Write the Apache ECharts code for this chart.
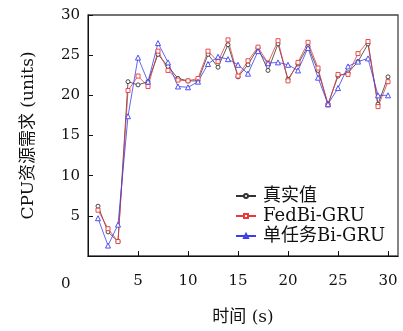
<!DOCTYPE html>
<html>
<head>
<meta charset="utf-8">
<script src="https://cdn.jsdelivr.net/npm/echarts@6/dist/echarts.min.js"></script>
<style>
  html, body { margin: 0; padding: 0; background: #fff; }
  #chart { width: 403px; height: 331px; }
</style>
</head>
<body>
<div id="chart"></div>
<script>
// 时间点 (s)
const timeSteps = [1, 2, 3, 4, 5, 6, 7, 8, 9, 10, 11, 12, 13, 14, 15,
  16, 17, 18, 19, 20, 21, 22, 23, 24, 25, 26, 27, 28, 29, 30];

// 真实值
const actualValues = [6.2, 3.0, 1.8, 21.7, 21.3, 21.7, 25.1, 23.6, 22.1, 21.8,
  21.8, 25.1, 23.5, 26.3, 22.3, 23.8, 25.9, 23.1, 26.4, 22.0,
  23.9, 26.1, 23.1, 18.9, 22.4, 22.8, 24.2, 26.4, 18.9, 22.3];

// FedBi-GRU
const fedValues = [5.7, 3.4, 1.8, 20.6, 22.4, 21.1, 25.5, 23.1, 21.9, 21.8,
  22.1, 25.5, 24.2, 26.9, 22.4, 24.3, 26.0, 24.0, 26.8, 21.8,
  24.1, 26.6, 23.4, 18.8, 22.6, 22.6, 25.2, 26.7, 18.6, 21.7];

// 单任务Bi-GRU
const singleValues = [4.7, 1.3, 3.9, 17.4, 24.7, 21.7, 26.5, 24.1, 21.1, 21.0,
  21.7, 23.9, 24.8, 24.5, 23.8, 22.7, 25.5, 24.0, 24.1, 23.8,
  23.1, 25.9, 22.2, 18.9, 20.9, 23.6, 24.2, 24.6, 20.0, 20.0];

const tickLabels = [5, 10, 15, 20, 25, 30];

const serif = "'DejaVu Serif', 'Noto Sans CJK SC', serif";

const pairs = (ys) => ys.map((v, i) => [timeSteps[i], v]);

const chart = echarts.init(document.getElementById('chart'));

const makeSeries = (name, ys, color, symbol, size) => ({
  name: name,
  type: 'line',
  data: pairs(ys),
  symbol: symbol,
  symbolSize: size,
  showAllSymbol: true,
  lineStyle: { color: color, width: 0.8 },
  itemStyle: { color: '#fff', borderColor: color, borderWidth: 0.9 },
  emphasis: { disabled: true },
  z: 3
});

chart.setOption({
  animation: false,
  grid: { left: 88, right: 5, top: 15, bottom: 72, show: true, borderColor: '#444', borderWidth: 1.3 },
  legend: {
    orient: 'vertical',
    left: 230,
    top: 182,
    itemWidth: 20,
    itemHeight: 5,
    itemGap: 2,
    textStyle: { fontFamily: serif, fontSize: 18, color: '#111', padding: [0, 0, 0, 2] },
    data: ['真实值', 'FedBi-GRU', '单任务Bi-GRU']
  },
  xAxis: {
    type: 'value',
    min: 0,
    max: 31,
    interval: 5,
    name: '时间 (s)',
    nameLocation: 'middle',
    nameGap: 53,
    nameTextStyle: { fontFamily: serif, fontSize: 17, color: '#111' },
    axisLine: { show: true, onZero: false, lineStyle: { color: '#111', width: 1 } },
    axisTick: { show: true, inside: true, length: 5, customValues: tickLabels, lineStyle: { color: '#111' } },
    axisLabel: { customValues: tickLabels, margin: 18, fontFamily: serif, fontSize: 15, color: '#111' },
    splitLine: { show: false }
  },
  yAxis: {
    type: 'value',
    min: 0,
    max: 30,
    interval: 5,
    name: 'CPU资源需求 (units)',
    nameLocation: 'middle',
    nameGap: 51,
    nameTextStyle: { fontFamily: serif, fontSize: 17, color: '#111' },
    axisLine: { show: true, onZero: false, lineStyle: { color: '#111', width: 1 } },
    axisTick: { show: true, inside: true, length: 5, customValues: tickLabels, lineStyle: { color: '#111' } },
    axisLabel: { customValues: tickLabels, margin: 8, fontFamily: serif, fontSize: 15, color: '#111' },
    splitLine: { show: false }
  },
  graphic: [{
    type: 'text',
    left: 61,
    top: 277,
    style: { text: '0', font: "15px 'DejaVu Serif'", fill: '#111' }
  }],
  series: [
    makeSeries('真实值', actualValues, '#333333', 'circle', 4),
    makeSeries('FedBi-GRU', fedValues, '#e8383a', 'rect', 4),
    makeSeries('单任务Bi-GRU', singleValues, '#3c3cf0', 'triangle', 5)
  ]
});
</script>
</body>
</html>
